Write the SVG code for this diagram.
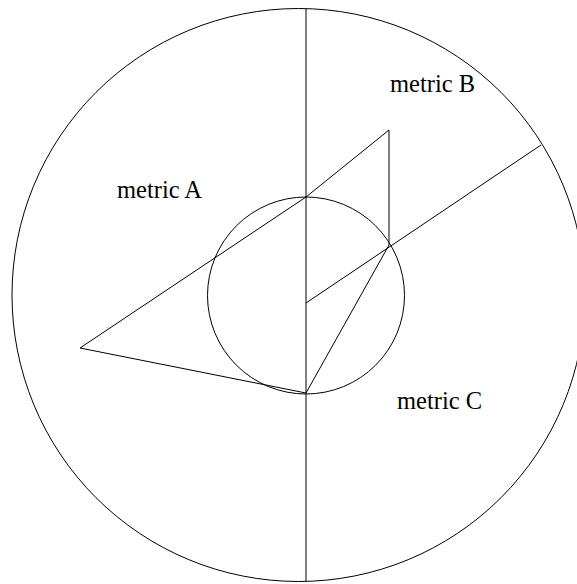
<svg xmlns="http://www.w3.org/2000/svg" width="577" height="584" viewBox="0 0 577 584">
<style>
.ln{fill:none;stroke:#000;stroke-width:1}
.lbl{font-family:"Liberation Serif","Times New Roman",serif;font-size:24.5px;fill:#000}
</style>
<rect width="577" height="584" fill="#fff"/>
<g id="outer-circle"><circle class="ln" cx="298.5" cy="295" r="286.5"/></g>
<g id="inner-circle"><circle class="ln" cx="306" cy="295.5" r="98.5"/></g>
<g id="connectors">
<line class="ln" x1="306" y1="8.6" x2="306" y2="581"/>
<line class="ln" x1="306" y1="303" x2="541" y2="145"/>
<polygon class="ln" points="306,197 389,130 389,245 306,393 80,348"/>
</g>
<g id="label-a"><text class="lbl" x="117" y="198">metric A</text></g>
<g id="label-b"><text class="lbl" x="390" y="92">metric B</text></g>
<g id="label-c"><text class="lbl" x="397" y="409">metric C</text></g>
</svg>
